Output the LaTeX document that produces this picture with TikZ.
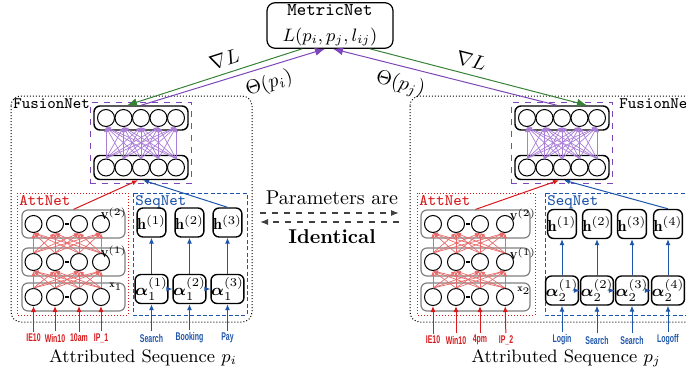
\documentclass[tikz,border=0pt]{standalone}
\usepackage{fontspec}
\usepackage{amsmath}
\usepackage{amsfonts}
\usepackage{tikz}
\usetikzlibrary{arrows.meta,fit}

\newfontfamily\inputfont[FakeStretch=0.62]{Liberation Sans}

\definecolor{attred}{RGB}{215,25,28}
\definecolor{lightred}{RGB}{232,105,105}
\definecolor{seqblue}{RGB}{30,85,170}
\definecolor{fusepurple}{RGB}{125,70,185}
\definecolor{lightpurple}{RGB}{170,125,215}
\definecolor{gradgreen}{RGB}{55,130,55}

\tikzset{
	neuron/.style={shape=circle,draw=black,line width=0.5pt,minimum size=8.5pt,inner sep=0pt},
	fuselayer/.style={draw=black,line width=0.7pt,rounded corners=3pt,inner xsep=1.5pt,inner ysep=1.5pt},
	fusedash/.style={draw=fusepurple,dashed,line width=0.6pt,inner sep=1.5pt},
	fuseedge/.style={draw=lightpurple,line width=0.35pt,-{Latex[length=2.5pt,width=2pt]}},
	fusionbox/.style={draw=black,densely dotted,line width=0.5pt,rounded corners=5pt},
	attbox/.style={draw=attred,densely dotted,line width=0.5pt},
	seqbox/.style={draw=seqblue,dash pattern=on 2pt off 1.2pt,line width=0.5pt},
	netlabel/.style={anchor=north west,inner sep=1pt,font=\footnotesize\ttfamily},
	attlayer/.style={draw=gray,line width=0.6pt,rounded corners=3pt,minimum height=14pt},
	gap/.style={draw=black,line width=0.6pt,shorten <=0.6pt,shorten >=0.6pt},
	attedge/.style={draw=lightred,line width=0.35pt,-{Latex[length=2.5pt,width=2pt]}},
	attarrow/.style={draw=attred,line width=0.5pt,-{Latex[length=3pt,width=2.5pt]}},
	seqarrow/.style={draw=seqblue,line width=0.5pt,-{Latex[length=3pt,width=2.5pt]}},
	seqcell/.style={draw=black,line width=0.7pt,rounded corners=3pt,minimum width=14pt,minimum height=14.5pt,inner sep=0pt,font=\footnotesize},
	attin/.style={text=attred,inner sep=1pt,font=\inputfont\bfseries\fontsize{5.6}{6}\selectfont},
	seqin/.style={text=seqblue,inner sep=1pt,font=\inputfont\bfseries\fontsize{5.6}{6}\selectfont},
	layertext/.style={inner sep=0pt,font=\tiny},
	metricbox/.style={draw=black,line width=0.6pt,rounded corners=4pt,minimum width=63pt,minimum height=22.5pt,align=center,inner sep=1pt},
	gradarrow/.style={draw=gradgreen,line width=0.5pt,-{Latex[length=5pt,width=4pt]}},
	thetaarrow/.style={draw=fusepurple,line width=0.5pt,-{Latex[length=5pt,width=4pt]}},
	sharearrow/.style={draw=black!75,dashed,line width=0.6pt,-{Latex[length=4pt,width=3pt]}},
	seqtitle/.style={font=\small}
}

\begin{document}
\begin{tikzpicture}[x=0.5pt,y=-0.5pt]
	\useasboundingbox (0,0) rectangle (686,375);
	\clip (0,0) rectangle (686,375);

	% metric network on top
	\node[metricbox] (mn) at (330,25.5) {\small\ttfamily MetricNet\\[1pt]\small $L(p_i,p_j,l_{ij})$};

	% ---------- left branch ----------
	\draw[fusionbox] (11,96) rectangle (252,322);
	\node[netlabel] (lfname) at (11,96) {FusionNet};

	\foreach \i/\x in {1/106,2/123.5,3/141,4/158.5,5/176} {
		\node[neuron] (lft\i) at (\x,118) {};
		\node[neuron] (lfb\i) at (\x,167.5) {};
	}
	\node[fuselayer,fit=(lft1)(lft5)] (lftop) {};
	\node[fuselayer,fit=(lfb1)(lfb5)] (lfbot) {};
	\node[fusedash,fit=(lftop)(lfbot)] (lfuse) {};
	\foreach \i in {1,...,5}
		\foreach \j in {1,...,5}
			\draw[fuseedge] (lfb\i.north) -- (lft\j.south);

	% AttNet
	\draw[attbox] (17,193) rectangle (128,315);
	\node[netlabel,text=attred] (laname) at (17,193) {AttNet};
	\foreach \k/\y in {0/297,1/262,2/224} {
		\node[attlayer,minimum width=51.5pt] (lal\k) at (73.5,\y) {};
		\foreach \i/\x in {1/33.5,2/55,3/79,4/101}
			\node[neuron] (la\k\i) at (\x,\y) {};
		\draw[gap] (la\k2) -- (la\k3);
	}
	\foreach \i in {1,...,4}
		\foreach \j in {1,...,4} {
			\draw[attedge] (la0\i.north) -- (la1\j.south);
			\draw[attedge] (la1\i.north) -- (la2\j.south);
		}
	\node[layertext] (lv2) at (114,214) {$\mathbf{V}^{(2)}$};
	\node[layertext] (lv1) at (114,252) {$\mathbf{V}^{(1)}$};
	\node[layertext] (lx) at (116,287) {$\mathbf{x}_1$};
	\foreach \i/\x/\t in {1/33.5/IE10,2/55/Win10,3/79/10am,4/101/IP\_1} {
		\node[attin] (lai\i) at (\x,338) {\t};
		\draw[attarrow] (lai\i) -- (la0\i);
	}

	% SeqNet
	\draw[seqbox] (133,193) rectangle (247,315);
	\node[netlabel,text=seqblue] (lsname) at (133,193) {SeqNet};
	\foreach \i/\x/\t in {1/151.5/Search,2/189.5/Booking,3/227.5/Pay} {
		\node[seqcell] (lsh\i) at (\x,222.5) {$\mathbf{h}^{(\i)}$};
		\node[seqcell] (lsa\i) at (\x,289) {$\boldsymbol{\alpha}_1^{(\i)}$};
		\node[seqin] (lsi\i) at (\x,338) {\t};
		\draw[seqarrow] (lsa\i) -- (lsh\i);
		\draw[seqarrow] (lsi\i) -- (lsa\i);
	}
	\draw[seqarrow] (lsa1) -- (lsa2);
	\draw[seqarrow] (lsa2) -- (lsa3);

	\draw[attarrow] (lal2.north) -- ([xshift=-1.5pt]lfbot.south);
	\draw[seqarrow] (lsh3.north) -- ([xshift=1pt]lfbot.south);
	\node[seqtitle] (lname) at (143,358) {Attributed Sequence $p_i$};

	% ---------- right branch ----------
	\draw[fusionbox] (410,96) rectangle (720,322);
	\node[netlabel] (rfname) at (617,96) {FusionNet};

	\foreach \i/\x in {1/527,2/544.5,3/562,4/579.5,5/597} {
		\node[neuron] (rft\i) at (\x,118) {};
		\node[neuron] (rfb\i) at (\x,167.5) {};
	}
	\node[fuselayer,fit=(rft1)(rft5)] (rftop) {};
	\node[fuselayer,fit=(rfb1)(rfb5)] (rfbot) {};
	\node[fusedash,fit=(rftop)(rfbot)] (rfuse) {};
	\foreach \i in {1,...,5}
		\foreach \j in {1,...,5}
			\draw[fuseedge] (rfb\i.north) -- (rft\j.south);

	% AttNet
	\draw[attbox] (417,193) rectangle (535,315);
	\node[netlabel,text=attred] (raname) at (417,193) {AttNet};
	\foreach \k/\y in {0/297,1/262,2/224} {
		\node[attlayer,minimum width=54.5pt] (ral\k) at (475.5,\y) {};
		\foreach \i/\x in {1/433,2/456,3/480,4/505}
			\node[neuron] (ra\k\i) at (\x,\y) {};
		\draw[gap] (ra\k2) -- (ra\k3);
	}
	\foreach \i in {1,...,4}
		\foreach \j in {1,...,4} {
			\draw[attedge] (ra0\i.north) -- (ra1\j.south);
			\draw[attedge] (ra1\i.north) -- (ra2\j.south);
		}
	\node[layertext] (rv2) at (523,215) {$\mathbf{V}^{(2)}$};
	\node[layertext] (rv1) at (523,254) {$\mathbf{V}^{(1)}$};
	\node[layertext] (rx) at (524,291) {$\mathbf{x}_2$};
	\foreach \i/\x/\t in {1/433/IE10,2/456/Win10,3/480/4pm,4/506/IP\_2} {
		\node[attin] (rai\i) at (\x,340) {\t};
		\draw[attarrow] (rai\i) -- (ra0\i);
	}

	% SeqNet
	\draw[seqbox] (545,193) rectangle (720,315);
	\node[netlabel,text=seqblue] (rsname) at (545,193) {SeqNet};
	\foreach \i/\x/\t in {1/562/Login,2/597/Search,3/632/Search,4/668/Logoff} {
		\node[seqcell] (rsh\i) at (\x,224) {$\mathbf{h}^{(\i)}$};
		\node[seqcell] (rsa\i) at (\x,290.5) {$\boldsymbol{\alpha}_2^{(\i)}$};
		\node[seqin] (rsi\i) at (\x,340) {\t};
		\draw[seqarrow] (rsa\i) -- (rsh\i);
		\draw[seqarrow] (rsi\i) -- (rsa\i);
	}
	\draw[seqarrow] (rsa1) -- (rsa2);
	\draw[seqarrow] (rsa2) -- (rsa3);
	\draw[seqarrow] (rsa3) -- (rsa4);

	\draw[attarrow] (ral2.north) -- ([xshift=-1.5pt]rfbot.south);
	\draw[seqarrow] (rsh4.north) -- ([xshift=1pt]rfbot.south);
	\node[seqtitle] (rname) at (566,358) {Attributed Sequence $p_j$};

	% ---------- links to MetricNet ----------
	\draw[gradarrow] ([xshift=-14pt]mn.south) -- ([xshift=-7pt]lftop.north)
		node[pos=0.42,above,sloped] {$\nabla L$};
	\draw[thetaarrow] (lftop.north) -- ([xshift=-2.5pt]mn.south)
		node[pos=0.67,below,sloped] {$\Theta(p_i)$};
	\draw[thetaarrow] ([xshift=-2.5pt]rftop.north) -- ([xshift=1.5pt]mn.south)
		node[pos=0.68,below,sloped] {$\Theta(p_j)$};
	\draw[gradarrow] ([xshift=20pt]mn.south) -- ([xshift=12.5pt]rftop.north)
		node[pos=0.45,above,sloped] {$\nabla L$};

	% shared parameters
	\node (param) at (332,198) {Parameters are};
	\node[font=\bfseries] (ident) at (332,237) {Identical};
	\coordinate (sa) at (260,213);
	\coordinate (sb) at (399,213);
	\coordinate (sc) at (399,222);
	\coordinate (sd) at (260,222);
	\draw[sharearrow] (sa) -- (sb);
	\draw[sharearrow] (sc) -- (sd);

\end{tikzpicture}
\end{document}
